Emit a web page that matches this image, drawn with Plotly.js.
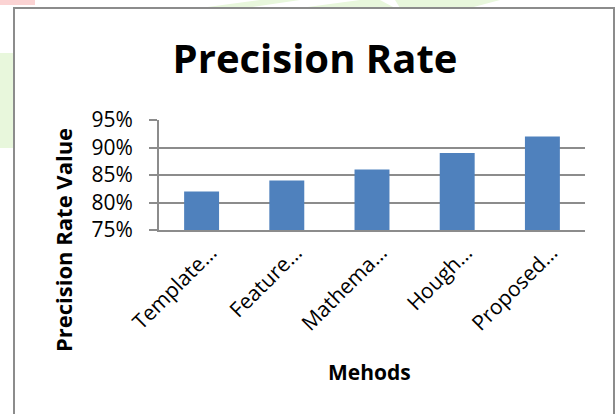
<!DOCTYPE html>
<html>
<head>
<meta charset="utf-8">
<script src="https://cdn.plot.ly/plotly-3.0.1.min.js"></script>
<style>
  html, body { margin: 0; padding: 0; background: #ffffff; }
  #chart { width: 616px; height: 414px; }
</style>
</head>
<body>
<div id="chart"></div>
<script>
// Precision rate per detection method
const methods = ["Template…", "Feature…", "Mathema…", "Hough…", "Proposed…"];
const precision = [0.82, 0.84, 0.86, 0.89, 0.92];
const yTicks = [0.75, 0.80, 0.85, 0.90, 0.95];
const yTickLabels = ["75%", "80%", "85%", "90%", "95%"];

const W = 616, H = 414;
const plotL = 159, plotR = 585, plotT = 120, plotB = 230;
const pw = plotR - plotL, ph = plotB - plotT;
// pixel -> paper coordinate helpers for frame and annotations
const px = x => (x - plotL) / pw;
const py = y => (plotB - y) / ph;

const FONT = "'Open Sans', Lato, sans-serif";
const GRID = "#8c8c8c";

const trace = {
  type: "bar",
  x: methods,
  y: precision,
  marker: { color: "#4F81BD" },
  hoverinfo: "x+y"
};

const layout = {
  width: W,
  height: H,
  margin: { l: plotL, r: W - plotR, t: plotT, b: H - plotB },
  paper_bgcolor: "#ffffff",
  plot_bgcolor: "#ffffff",
  showlegend: false,
  bargap: 0.59,
  font: { family: FONT, color: "#000000" },
  title: {
    text: "<b>Precision Rate</b>",
    font: { family: FONT, size: 40, color: "#000000" },
    x: 315 / W, xanchor: "center", xref: "container",
    y: 1 - 59 / H, yanchor: "middle", yref: "container"
  },
  xaxis: {
    type: "category",
    tickangle: -45,
    tickfont: { family: FONT, size: 21, color: "#000000" },
    ticklabelshift: 9,
    showgrid: false,
    showline: true, linecolor: GRID, linewidth: 2,
    ticks: "",
    fixedrange: true
  },
  yaxis: {
    range: [0.75, 0.95],
    tickvals: yTicks,
    ticktext: yTickLabels,
    tickfont: { family: FONT, size: 21, color: "#000000" },
    ticklabelstandoff: 12,
    showgrid: true, gridcolor: GRID, gridwidth: 2,
    showline: true, linecolor: GRID, linewidth: 2,
    ticks: "outside", ticklen: 8, tickcolor: GRID, tickwidth: 2,
    zeroline: false,
    fixedrange: true
  },
  shapes: [
    // faint decorative background tints outside the chart frame
    { type: "rect", xref: "paper", yref: "paper", layer: "below",
      x0: px(0), x1: px(14), y0: py(148), y1: py(53),
      fillcolor: "#e8f7dc", line: { width: 0 } },
    { type: "path", xref: "paper", yref: "paper", layer: "below",
      path: `M ${px(200)},${py(8)} L ${px(260)},${py(0)} L ${px(300)},${py(0)} L ${px(245)},${py(8)} Z`,
      fillcolor: "#e8f7dc", line: { width: 0 } },
    { type: "path", xref: "paper", yref: "paper", layer: "below",
      path: `M ${px(300)},${py(8)} L ${px(360)},${py(0)} L ${px(380)},${py(0)} L ${px(395)},${py(8)} Z`,
      fillcolor: "#e8f7dc", line: { width: 0 } },
    { type: "path", xref: "paper", yref: "paper", layer: "below",
      path: `M ${px(400)},${py(8)} L ${px(395)},${py(0)} L ${px(500)},${py(0)} L ${px(470)},${py(8)} Z`,
      fillcolor: "#e8f7dc", line: { width: 0 } },
    { type: "rect", xref: "paper", yref: "paper", layer: "below",
      x0: px(0), x1: px(35), y0: py(5), y1: py(0),
      fillcolor: "#fbd3d3", line: { width: 0 } },
    // chart frame
    { type: "rect", xref: "paper", yref: "paper", layer: "below",
      x0: px(14), x1: px(614), y0: py(430), y1: py(8),
      fillcolor: "#ffffff", line: { color: "#8c8c8c", width: 2 } }
  ],
  annotations: [
    {
      text: "<b>Precision Rate Value</b>",
      xref: "paper", yref: "paper",
      x: px(63), y: py(240),
      xanchor: "center", yanchor: "middle",
      textangle: -90, showarrow: false,
      font: { family: FONT, size: 22, color: "#000000" }
    },
    {
      text: "<b>Mehods</b>",
      xref: "paper", yref: "paper",
      x: px(369), y: py(372),
      xanchor: "center", yanchor: "middle",
      showarrow: false,
      font: { family: FONT, size: 21, color: "#000000" }
    }
  ]
};

Plotly.newPlot("chart", [trace], layout, { displayModeBar: false, staticPlot: true });
</script>
</body>
</html>
